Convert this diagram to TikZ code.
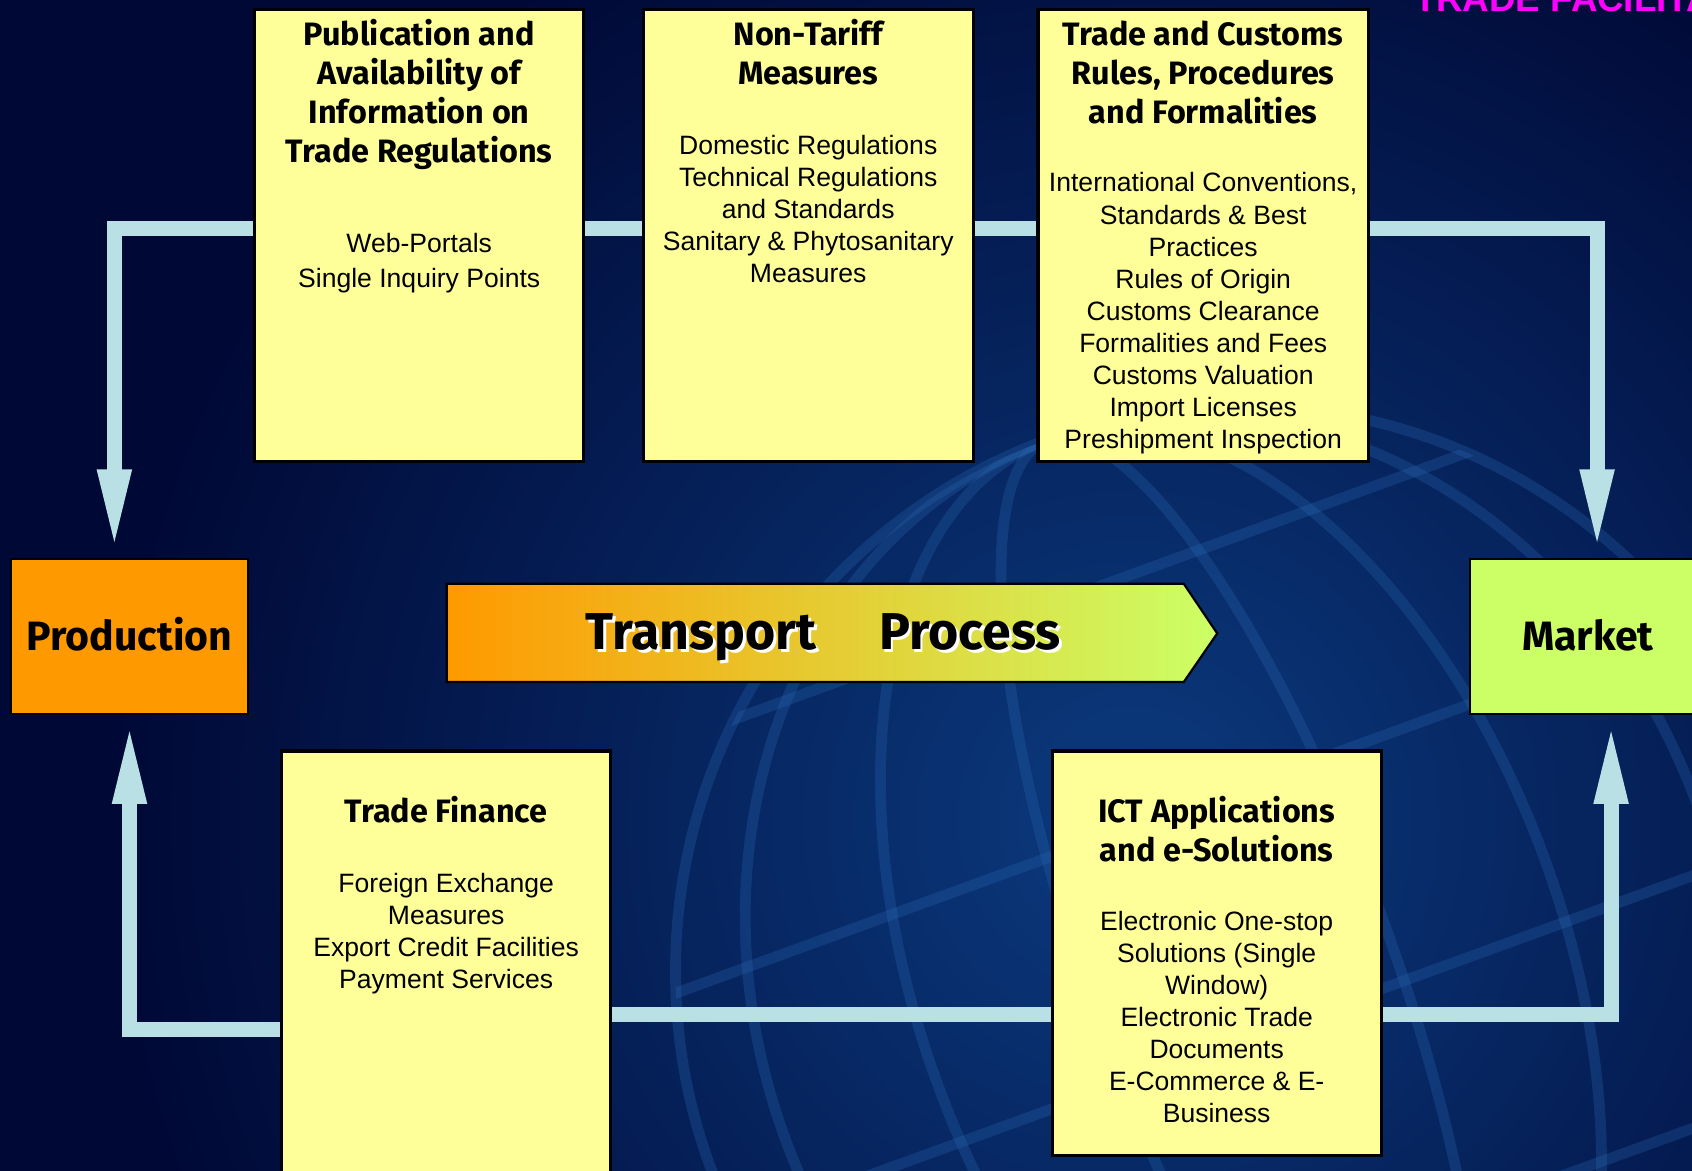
\documentclass[tikz,border=0pt]{standalone}
\usepackage{fontspec}
\setmainfont{Liberation Sans}
\newfontfamily\headfont{Fira Sans}
\usetikzlibrary{arrows.meta,fit}
\definecolor{bgdark}{HTML}{000835}
\definecolor{bglight}{HTML}{0B3A7E}
\definecolor{globec}{HTML}{2A6AB5}
\definecolor{yboxc}{HTML}{FFFF99}
\definecolor{prodc}{HTML}{FF9900}
\definecolor{mktc}{HTML}{CCFF66}
\definecolor{connc}{HTML}{B9E0E4}
\definecolor{titlec}{HTML}{FF00FF}
\pgfdeclarelayer{bglayer}
\pgfdeclarelayer{connlayer}
\pgfsetlayers{bglayer,connlayer,main}
\begin{document}
\begin{tikzpicture}[x=0.5pt,y=-0.5pt,
  yellowbox/.style={draw=black, line width=1.5pt, fill=yboxc, inner sep=0pt, outer sep=0pt},
  endbox/.style={draw=black, line width=1pt, inner sep=0pt, outer sep=0pt},
  headtxt/.style={inner sep=0pt, anchor=north, align=center, font=\headfont\bfseries\fontsize{15}{18}\selectfont},
  bodytxt/.style={inner sep=0pt, anchor=north, align=center, font=\fontsize{12.3}{14.85}\selectfont},
  bigtxt/.style={inner sep=0pt, anchor=base, font=\headfont\bfseries\fontsize{19}{22}\selectfont},
  tptxt/.style={inner sep=0pt, anchor=base, font=\headfont\bfseries\fontsize{24}{28}\selectfont},
  globe/.style={draw=globec, line width=5pt, opacity=0.28},
  conn/.style={draw=connc, line width=7pt},
  connarrow/.style={conn, -{Triangle[length=38.5pt, width=14pt]}},
]
\useasboundingbox (0,0) rectangle (1568,1085);

% ---------- background ----------
\begin{pgfonlayer}{bglayer}
\fill[bgdark] (0,0) rectangle (1568,1085);
\begin{scope}
  \clip (0,0) rectangle (1568,1085);
  \shade[inner color=bglight, outer color=bgdark] (1050,760) circle [radius=480pt];
  \begin{scope}[shift={(1150,900)}]
    \begin{scope}
      \clip (0,0) circle [radius=262pt];
      \begin{scope}[rotate=20]
        \foreach \r in {70,150,225} {
          \draw[globe] (0,0) ellipse [x radius=\r pt, y radius=262pt];
        }
        \foreach \yy in {-380,-160,60,280} {
          \draw[globe] (-700,\yy) -- (700,\yy);
        }
      \end{scope}
    \end{scope}
    \draw[globe] (0,0) circle [radius=262pt];
  \end{scope}
\end{scope}
\end{pgfonlayer}

% ---------- title ----------
\node[anchor=base west, inner sep=0pt, text=titlec, font=\bfseries\fontsize{17}{20}\selectfont] (title) at (1310,11) {TRADE FACILITATION};

% ---------- boxes ----------
\node[yellowbox, fit={(236,9)(541,428)}] (b1) {};
\node[yellowbox, fit={(596,9)(902,428)}] (b2) {};
\node[yellowbox, fit={(962,9)(1268,428)}] (b3) {};
\node[yellowbox, fit={(261,696)(566,1110)}] (b4) {};
\node[yellowbox, fit={(975,696)(1280,1071)}] (b5) {};
\node[endbox, fill=prodc, fit={(10,518)(230,662)}] (prod) {};
\node[endbox, fill=mktc, fit={(1362,518)(1600,662)}] (mkt) {};

% ---------- transport arrow ----------
\shade[left color=prodc, right color=mktc, draw=black, line width=1pt]
  (414,541) -- (1097,541) -- (1128,587) -- (1097,632) -- (414,632) -- cycle;
\node[tptxt, text=white] (tpshadow) at (765.5,605) {Transport\hspace{29pt}Process};
\node[tptxt] (tp) at (763,602) {Transport\hspace{29pt}Process};

% ---------- texts ----------
\node[bigtxt] (prodt) at (120,603) {Production};
\node[bigtxt] (mktt) at (1471.5,602.5) {Market};

\node[headtxt] (b1h) at (388.5,16.8) {\strut Publication and\\Availability of\\Information on\\Trade Regulations};
\node[bodytxt, font=\fontsize{12.3}{16}\selectfont] (b1b) at (388.5,211.6) {\strut Web-Portals\\Single Inquiry Points};

\node[headtxt] (b2h) at (749,16.8) {\strut Non-Tariff\\Measures};
\node[bodytxt] (b2b) at (749,121.7) {\strut Domestic Regulations\\Technical Regulations\\and Standards\\Sanitary \& Phytosanitary\\Measures};

\node[headtxt] (b3h) at (1115,16.8) {\strut Trade and Customs\\Rules, Procedures\\and Formalities};
\node[bodytxt] (b3b) at (1115,156.7) {\strut International Conventions,\\Standards \& Best\\Practices\\Rules of Origin\\Customs Clearance\\Formalities and Fees\\Customs Valuation\\Import Licenses\\Preshipment Inspection};

\node[headtxt] (b4h) at (413.5,736.8) {\strut Trade Finance};
\node[bodytxt] (b4b) at (413.5,805.7) {\strut Foreign Exchange\\Measures\\Export Credit Facilities\\Payment Services};

\node[headtxt] (b5h) at (1127.5,736.8) {\strut ICT Applications\\and e-Solutions};
\node[bodytxt] (b5b) at (1127.5,840.7) {\strut Electronic One-stop\\Solutions (Single\\Window)\\Electronic Trade\\Documents\\E-Commerce \& E-\\Business};

% ---------- connectors ----------
\coordinate (tl) at (106,212);
\coordinate (tr) at (1480,212);
\coordinate (bl) at (120,954);
\coordinate (br) at (1493,940.5);
\begin{pgfonlayer}{connlayer}
\draw[connarrow] (b1.west |- tl) -- (tl) -- ([yshift=3pt]prod.north -| tl);
\draw[conn] (b1.east |- tl) -- (b2.west |- tl);
\draw[conn] (b2.east |- tl) -- (b3.west |- tl);
\draw[connarrow] (b3.east |- tr) -- (tr) -- ([yshift=3pt]mkt.north -| tr);
\draw[connarrow] (b4.west |- bl) -- (bl) -- ([yshift=-3pt]prod.south -| bl);
\draw[conn] (b4.east |- br) -- (b5.west |- br);
\draw[connarrow] (b5.east |- br) -- (br) -- ([yshift=-3pt]mkt.south -| br);
\end{pgfonlayer}
\end{tikzpicture}
\end{document}
